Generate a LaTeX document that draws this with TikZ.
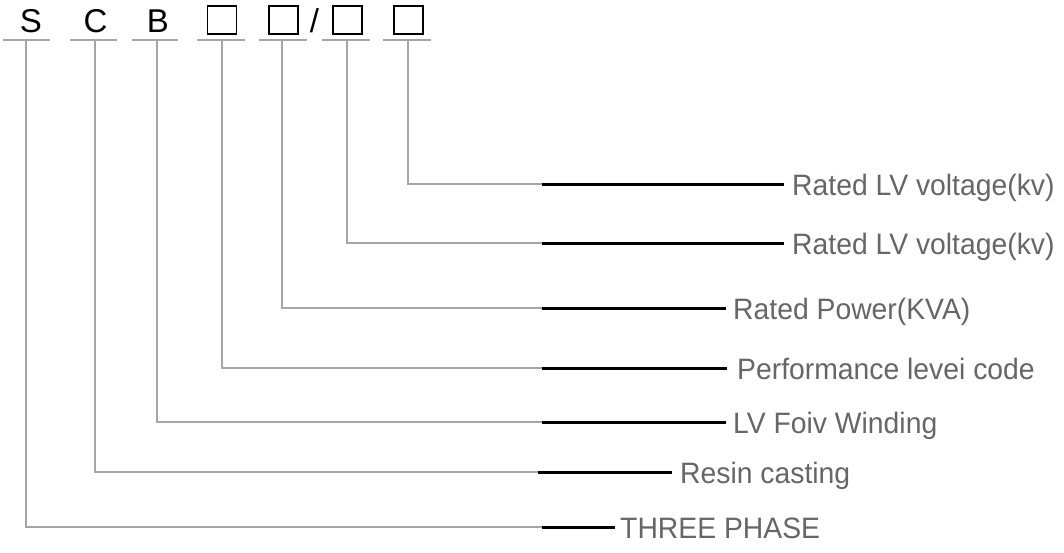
\documentclass[tikz,border=0pt]{standalone}
\usepackage{fontspec}
\setmainfont{Liberation Sans}
\newfontfamily\labfont[FakeStretch=0.96]{Liberation Sans}
\definecolor{linegray}{HTML}{A6A6A6}
\definecolor{labgray}{HTML}{666666}
\begin{document}
\begin{tikzpicture}[x=1pt,y=-1pt,
  grayline/.style={draw=linegray,line width=2.6pt},
  blackline/.style={draw=black,line width=3pt},
  head/.style={font=\fontsize{33}{33}\selectfont,inner sep=0pt,anchor=base},
  codebox/.style={draw=black,line width=1.8pt,minimum width=29pt,minimum height=28pt,inner sep=0pt},
  lab/.style={font=\labfont\fontsize{29.5}{30}\selectfont,text=labgray,inner sep=0pt,anchor=base west}]
\fill[white] (0,0) rectangle (1064,552);
\useasboundingbox (0,0) rectangle (1064,552);

% header symbols
\node[head] (hS) at (31,32) {S};
\node[head] (hC) at (95.5,32) {C};
\node[head] (hB) at (158,32) {B};
\node[codebox] (b1) at (222,20) {};
\node[codebox] (b2) at (283.5,20) {};
\node[head] (sl) at (314.5,32) {/};
\node[codebox] (b3) at (347.5,20) {};
\node[codebox] (b4) at (408.5,20) {};

% underlines
\draw[grayline] (3,40) -- (50,40);
\draw[grayline] (70,40) -- (117,40);
\draw[grayline] (132,40) -- (178,40);
\draw[grayline] (197,40) -- (245,40);
\draw[grayline] (259,40) -- (307,40);
\draw[grayline] (322,40) -- (370,40);
\draw[grayline] (383,40) -- (431,40);

% top points of the connectors
\coordinate (t1) at (408,40);
\coordinate (t2) at (347,40);
\coordinate (t3) at (282,40);
\coordinate (t4) at (222,40);
\coordinate (t5) at (157,40);
\coordinate (t6) at (95,40);
\coordinate (t7) at (26,40);

% junctions gray/black
\coordinate (j1) at (542,184);
\coordinate (j2) at (542,243);
\coordinate (j3) at (542,308);
\coordinate (j4) at (542,368);
\coordinate (j5) at (542,422);
\coordinate (j6) at (538,472);
\coordinate (j7) at (542,527);

% black line ends
\coordinate (e1) at (784,184);
\coordinate (e2) at (784,243);
\coordinate (e3) at (726,308);
\coordinate (e4) at (727,368);
\coordinate (e5) at (726,422);
\coordinate (e6) at (672,472);
\coordinate (e7) at (615,527);

% labels
\node[lab] (l1) at (792,195) {Rated LV voltage(kv)};
\node[lab] (l2) at (792,254) {Rated LV voltage(kv)};
\node[lab] (l3) at (733,319) {Rated Power(KVA)};
\node[lab] (l4) at (737,379) {Performance levei code};
\node[lab] (l5) at (733,433) {LV Foiv Winding};
\node[lab] (l6) at (680,483) {Resin casting};
\node[lab] (l7) at (620,538) {THREE PHASE};

% connectors
\foreach \i in {1,...,7}{
  \draw[grayline] (t\i) |- (j\i);
  \draw[blackline] (j\i) -- (e\i);
}
\end{tikzpicture}
\end{document}
